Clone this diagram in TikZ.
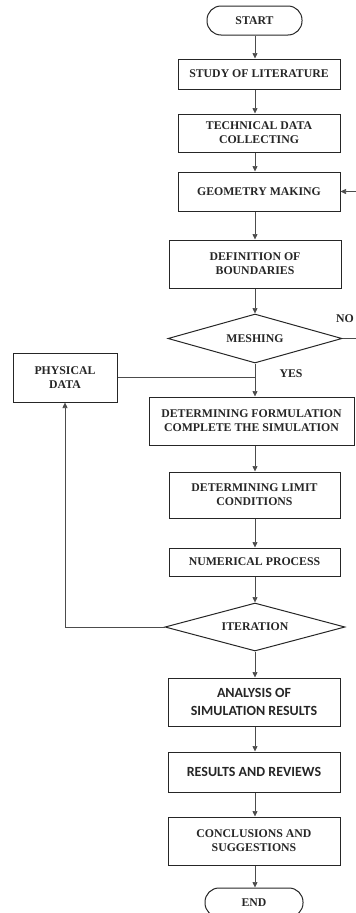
\documentclass[tikz,border=0pt]{standalone}
\usepackage{fontspec}
\setmainfont{Liberation Serif}
\newfontfamily\calib{Carlito}
\usetikzlibrary{shapes.geometric,arrows.meta}
\begin{document}
\begin{tikzpicture}[x=1pt,y=-1pt,
  box/.style={draw=black!85, line width=1pt, align=center, inner sep=0pt, text=black!85,
    font=\fontsize{11.8}{14}\selectfont\bfseries},
  sbox/.style={box, font=\calib\fontsize{14}{18}\selectfont\bfseries},
  term/.style={box, rounded corners=14pt},
  dec/.style={box, diamond, aspect=3.5},
  lbl/.style={inner sep=0pt, text=black!85, font=\fontsize{11.8}{14}\selectfont\bfseries},
  arr/.style={draw=black!70, line width=0.7pt, -{Triangle[length=5.5pt,width=5pt]}},
  ln/.style={draw=black!70, line width=0.7pt}]
\clip (0,0) rectangle (356,913);
\useasboundingbox (0,0) rectangle (356,913);
\coordinate (spine) at (255,0);
\node[term, minimum width=95pt, minimum height=29pt] (start) at (254.5,20.5) {START};
\node[box, minimum width=162pt, minimum height=30pt] (study) at (259,74) {STUDY OF LITERATURE};
\node[box, minimum width=162pt, minimum height=38pt] (tech) at (259,133) {TECHNICAL DATA\\COLLECTING};
\node[box, minimum width=162pt, minimum height=39pt] (geom) at (259,191.5) {GEOMETRY MAKING};
\node[box, minimum width=172pt, minimum height=48pt] (def) at (255,264) {DEFINITION OF\\BOUNDARIES};
\node[dec, minimum width=174pt, minimum height=49pt] (mesh) at (255,338.5) {MESHING};
\node[box, minimum width=104pt, minimum height=49pt] (phys) at (65,377.5) {PHYSICAL\\DATA};
\node[box, minimum width=205pt, minimum height=48pt] (form) at (251.5,421) {DETERMINING FORMULATION\\COMPLETE THE SIMULATION};
\node[box, minimum width=171pt, minimum height=46pt] (lim) at (254.5,495) {DETERMINING LIMIT\\CONDITIONS};
\node[box, minimum width=171pt, minimum height=28pt] (num) at (254.5,562) {NUMERICAL PROCESS};
\node[dec, minimum width=180pt, minimum height=48pt] (iter) at (255,627) {ITERATION};
\node[sbox, minimum width=172pt, minimum height=48pt] (ana) at (254,702) {ANALYSIS OF\\SIMULATION RESULTS};
\node[sbox, minimum width=172pt, minimum height=40pt] (res) at (254,772) {RESULTS AND REVIEWS};
\node[box, minimum width=172pt, minimum height=48pt] (conc) at (254,841) {CONCLUSIONS AND\\SUGGESTIONS};
\node[term, minimum width=98pt, minimum height=29pt] (end) at (254,902.5) {END};
\node[lbl, anchor=west] (no) at (336,319) {NO};
\node[lbl] (yes) at (291,374) {YES};
\draw[arr] (start.south -| spine) -- (study.north -| spine);
\draw[arr] (study.south -| spine) -- (tech.north -| spine);
\draw[arr] (tech.south -| spine) -- (geom.north -| spine);
\draw[arr] (geom.south -| spine) -- (def.north -| spine);
\draw[arr] (def.south -| spine) -- (mesh.north);
\draw[arr] (mesh.east) -- ++(40,0) |- (geom.east);
\draw[arr] (mesh.south) -- (form.north -| spine);
\draw[ln] (phys.east) -- (phys.east -| spine);
\draw[arr] (form.south -| spine) -- (lim.north -| spine);
\draw[arr] (lim.south -| spine) -- (num.north -| spine);
\draw[arr] (num.south -| spine) -- (iter.north);
\draw[arr] (iter.west) -| (phys.south);
\draw[arr] (iter.south) -- (ana.north -| spine);
\draw[arr] (ana.south -| spine) -- (res.north -| spine);
\draw[arr] (res.south -| spine) -- (conc.north -| spine);
\draw[arr] (conc.south -| spine) -- (end.north -| spine);
\end{tikzpicture}
\end{document}
